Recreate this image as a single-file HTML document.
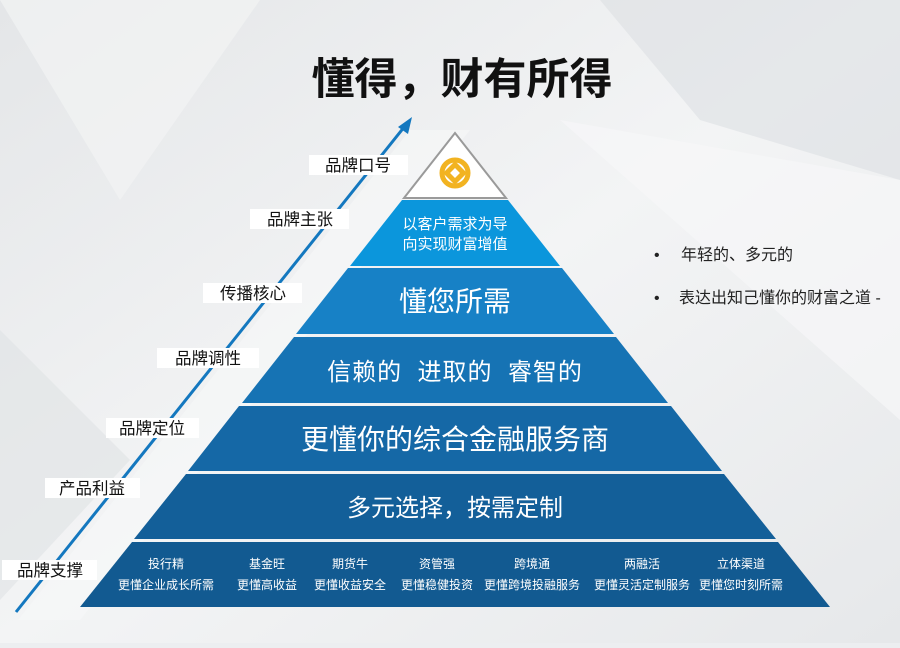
<!DOCTYPE html>
<html><head><meta charset="utf-8"><style>
body{margin:0;width:900px;height:643px;overflow:hidden;background:#eceef0;font-family:"Liberation Sans","Noto Sans CJK SC",sans-serif}
</style></head><body>
<svg width="900" height="643" viewBox="0 0 900 643" xmlns="http://www.w3.org/2000/svg" font-family="Liberation Sans, Noto Sans CJK SC, sans-serif">
<defs><linearGradient id="bg" x1="0" y1="0" x2="1" y2="1"><stop offset="0" stop-color="#e4e6e8"/><stop offset="0.5" stop-color="#f3f4f5"/><stop offset="1" stop-color="#e6e8ea"/></linearGradient></defs>
<rect width="900" height="643" fill="url(#bg)"/>
<polygon points="0,0 260,0 120,200" fill="#f2f3f4" opacity="0.7"/>
<polygon points="600,0 900,0 900,180 700,120" fill="#dcdfe2" opacity="0.6"/>
<polygon points="560,120 900,180 900,420" fill="#f6f7f8" opacity="0.7"/>
<polygon points="0,330 130,460 0,600" fill="#e0e2e4" opacity="0.6"/>
<polygon points="18,620 410,130 470,130 80,620" fill="#f7f8f9" opacity="0.6"/>
<line x1="16" y1="612" x2="405" y2="126" stroke="#1478bf" stroke-width="3"/>
<polygon points="412,117 398,127 408,134" fill="#1478bf"/>
<text x="462" y="94" font-size="43" font-weight="bold" text-anchor="middle" fill="#111">懂得，财有所得</text>
<polygon points="455,133 404,198 506,198" fill="#fff" stroke="#9a9a9a" stroke-width="2"/>
<g transform="translate(455,173)" fill="none" stroke="#f2b321" stroke-width="5">
<circle r="13"/><rect x="-6" y="-6" width="12" height="12" transform="rotate(45)"/></g>
<polygon points="402,200 508,200 560,266 350,266" fill="#0b96dc"/>
<polygon points="348,268 562,268 614,334 296,334" fill="#1781c6"/>
<polygon points="294,337 616,337 668,403 242,403" fill="#1673b4"/>
<polygon points="239,406 671,406 722,471 188,471" fill="#1568a6"/>
<polygon points="186,474 724,474 776,539 134,539" fill="#135f99"/>
<polygon points="132,542 778,542 830,607 80,607" fill="#125a91"/>
<g fill="#fff" text-anchor="middle">
<text x="455" y="229" font-size="15">以客户需求为导</text>
<text x="455" y="249" font-size="15">向实现财富增值</text>
<text x="455" y="311" font-size="28">懂您所需</text>
<text x="455" y="380" font-size="24" xml:space="preserve" letter-spacing="1">信赖的  进取的  睿智的</text>
<text x="455" y="449" font-size="28">更懂你的综合金融服务商</text>
<text x="455" y="516" font-size="24">多元选择，按需定制</text>
<g font-size="12">
<text x="166" y="568">投行精</text><text x="166" y="589">更懂企业成长所需</text>
<text x="267" y="568">基金旺</text><text x="267" y="589">更懂高收益</text>
<text x="350" y="568">期货牛</text><text x="350" y="589">更懂收益安全</text>
<text x="437" y="568">资管强</text><text x="437" y="589">更懂稳健投资</text>
<text x="532" y="568">跨境通</text><text x="532" y="589">更懂跨境投融服务</text>
<text x="642" y="568">两融活</text><text x="642" y="589">更懂灵活定制服务</text>
<text x="741" y="568">立体渠道</text><text x="741" y="589">更懂您时刻所需</text>
</g></g>
<g font-size="16.5" fill="#111" text-anchor="middle">
<rect x="309" y="155" width="99" height="20" fill="#fff"/><text x="358" y="171">品牌口号</text>
<rect x="250" y="209" width="99" height="20" fill="#fff"/><text x="300" y="225">品牌主张</text>
<rect x="203" y="283" width="99" height="20" fill="#fff"/><text x="253" y="299">传播核心</text>
<rect x="157" y="348" width="102" height="20" fill="#fff"/><text x="208" y="364">品牌调性</text>
<rect x="106" y="418" width="93" height="20" fill="#fff"/><text x="152" y="434">品牌定位</text>
<rect x="45" y="478" width="95" height="20" fill="#fff"/><text x="92" y="494">产品利益</text>
<rect x="2" y="560" width="95" height="20" fill="#fff"/><text x="50" y="576">品牌支撑</text>
</g>
<g font-size="16" fill="#222">
<text x="654" y="260">•</text><text x="681" y="260">年轻的、多元的</text>
<text x="654" y="303">•</text><text x="679" y="303">表达出知己懂你的财富之道 -</text>
</g>
</svg>
</body></html>
